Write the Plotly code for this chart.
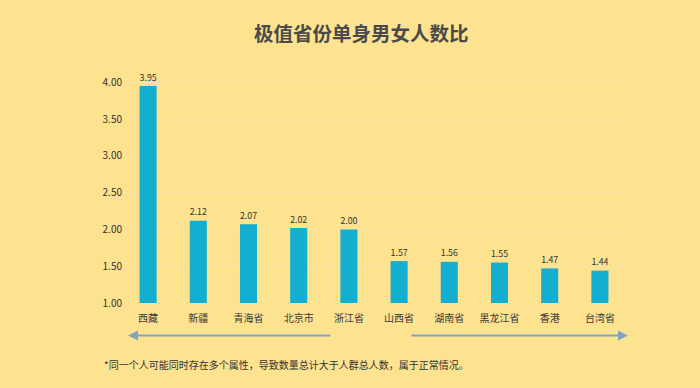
import plotly.graph_objects as go

categories = ["西藏", "新疆", "青海省", "北京市", "浙江省", "山西省", "湖南省", "黑龙江省", "香港", "台湾省"]
values = [3.95, 2.12, 2.07, 2.02, 2.00, 1.57, 1.56, 1.55, 1.47, 1.44]
tick_vals = [1.0, 1.5, 2.0, 2.5, 3.0, 3.5, 4.0]
tick_text = ["1.00", "1.50", "2.00", "2.50", "3.00", "3.50", "4.00"]

BG = "#FDE290"
BAR = "#14AED0"
FONT = "Noto Sans CJK SC"

fig = go.Figure()
fig.add_trace(go.Bar(
    x=categories, y=[v - 1 for v in values], base=1,
    marker=dict(color=BAR, line=dict(width=0)),
    width=0.34,
    text=[f"{v:.2f}" for v in values], textposition="outside",
    textfont=dict(size=11, color="#333333", family=FONT),
    cliponaxis=False, hoverinfo="skip",
))

fig.update_layout(
    width=700, height=388,
    paper_bgcolor=BG, plot_bgcolor=BG,
    margin=dict(l=123, r=75, t=75, b=85),
    showlegend=False,
    font=dict(family=FONT, color="#333333"),
    title=dict(text="<b>极值省份单身男女人数比</b>", x=0.516, xanchor="center",
               y=0.912, yanchor="middle",
               font=dict(size=19.5, color="#4a4a4a", family=FONT)),
    xaxis=dict(showgrid=False, showline=False, ticks="", zeroline=False,
               tickfont=dict(size=10, color="#3a3a3a", family=FONT),
               ticklabelstandoff=8,
               range=[-0.5, 9.5]),
    yaxis=dict(range=[1, 4.1], tickvals=tick_vals, ticktext=tick_text,
               showgrid=True, gridcolor="#F6E4A8", gridwidth=1,
               zeroline=False, showline=False, ticks="",
               tickfont=dict(size=10, color="#333333", family=FONT)),
    bargap=0.66,
)

arrow_color = "#7FA6BD"
fig.add_annotation(x=0.01, y=-0.142, xref="paper", yref="paper",
                   ax=204, ay=0, axref="pixel", ayref="pixel",
                   showarrow=True, arrowhead=2, arrowsize=1, arrowwidth=2,
                   arrowcolor=arrow_color, text="")
fig.add_annotation(x=1.006, y=-0.142, xref="paper", yref="paper",
                   ax=-218, ay=0, axref="pixel", ayref="pixel",
                   showarrow=True, arrowhead=2, arrowsize=1, arrowwidth=2,
                   arrowcolor=arrow_color, text="")

fig.add_annotation(x=-0.042, y=-0.27, xref="paper", yref="paper",
                   xanchor="left", yanchor="middle", showarrow=False,
                   text="*同一个人可能同时存在多个属性，导致数量总计大于人群总人数，属于正常情况。",
                   font=dict(size=10, color="#333333", family=FONT))

fig.write_html("out.html", config={"displayModeBar": False},
               post_script="document.body.style.margin='0';")
